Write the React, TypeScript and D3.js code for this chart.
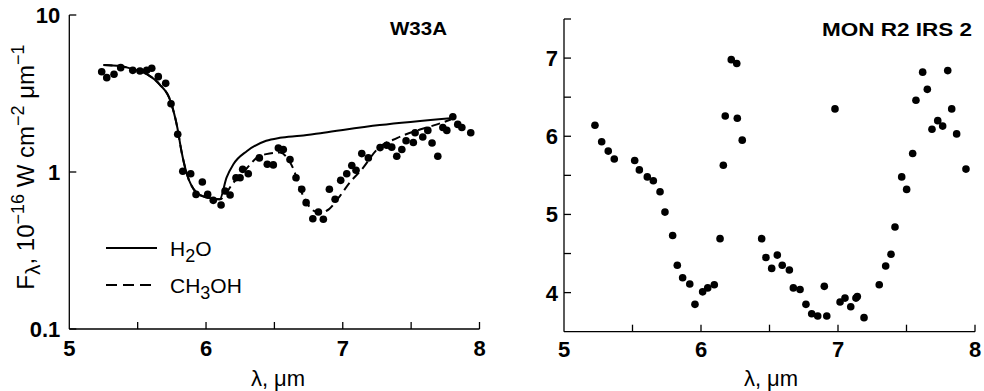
import React from "react"
import * as d3 from "d3"

// W33A observed points (wavelength in um, flux in 1e-16 W cm^-2 um^-1)
const w33aWave = [
  5.237, 5.274, 5.327, 5.376, 5.464, 5.517, 5.566, 5.603, 5.651, 5.705, 5.744, 5.793, 5.83, 5.888, 5.927, 5.973,
  6.012, 6.053, 6.11, 6.139, 6.176, 6.219, 6.249, 6.268, 6.309, 6.39, 6.448, 6.492, 6.529, 6.565, 6.614, 6.658,
  6.7, 6.732, 6.781, 6.822, 6.858, 6.902, 6.944, 6.985, 7.029, 7.066, 7.097, 7.139, 7.187, 7.273, 7.322, 7.358,
  7.395, 7.432, 7.463, 7.516, 7.529, 7.585, 7.622, 7.653, 7.695, 7.732, 7.761, 7.805, 7.841, 7.871, 7.936,
]
const w33aFlux = [
  4.35, 3.99, 4.19, 4.62, 4.44, 4.4, 4.44, 4.58, 4.05, 3.67, 2.72, 1.74, 1.01, 0.975, 0.72, 0.864,
  0.72, 0.66, 0.616, 0.757, 0.714, 0.92, 0.92, 1.04, 0.975, 1.23, 1.12, 1.11, 1.42, 1.39, 1.2, 0.92,
  0.776, 0.638, 0.504, 0.556, 0.5, 0.776, 0.67, 0.885, 0.975, 1.1, 1.025, 1.31, 1.23, 1.43, 1.48, 1.44,
  1.26, 1.39, 1.58, 1.54, 1.78, 1.67, 1.84, 1.53, 1.26, 1.92, 1.84, 2.25, 2.01, 1.92, 1.78,
]

// model fits
const h2oWave = [5.25, 5.37, 5.47, 5.57, 5.66, 5.74, 5.79, 5.82, 5.86, 5.93, 6.0, 6.1, 6.15, 6.2, 6.3, 6.44, 6.54, 6.69, 6.86, 7.27, 7.81]
const h2oFlux = [4.8, 4.73, 4.5, 4.19, 3.62, 2.83, 1.92, 1.36, 0.97, 0.74, 0.69, 0.67, 0.92, 1.12, 1.36, 1.58, 1.65, 1.7, 1.78, 1.99, 2.21]
const ch3ohWave = [5.25, 5.37, 5.47, 5.57, 5.66, 5.74, 5.79, 5.82, 5.86, 5.93, 6.0, 6.1, 6.2, 6.3, 6.37, 6.44, 6.54, 6.61, 6.64, 6.69, 6.75, 6.83, 6.9, 6.97, 7.05, 7.14, 7.25, 7.4, 7.57, 7.69, 7.79]
const ch3ohFlux = [4.8, 4.73, 4.5, 4.19, 3.62, 2.83, 1.92, 1.36, 0.97, 0.74, 0.69, 0.67, 0.855, 1.06, 1.23, 1.3, 1.33, 1.17, 1.04, 0.776, 0.61, 0.55, 0.58, 0.686, 0.855, 1.04, 1.39, 1.65, 1.87, 2.01, 2.16]

// MON R2 IRS 2 observed points
const monWave = [
  5.226, 5.275, 5.323, 5.367, 5.516, 5.55, 5.608, 5.652, 5.701, 5.737, 5.793, 5.827, 5.866, 5.918, 5.956, 6.012,
  6.049, 6.097, 6.139, 6.163, 6.177, 6.221, 6.261, 6.265, 6.301, 6.443, 6.474, 6.516, 6.557, 6.593, 6.645, 6.674,
  6.723, 6.766, 6.808, 6.852, 6.9, 6.918, 6.978, 7.015, 7.051, 7.093, 7.131, 7.141, 7.19, 7.301, 7.348, 7.387,
  7.416, 7.465, 7.501, 7.545, 7.569, 7.618, 7.652, 7.686, 7.728, 7.764, 7.801, 7.83, 7.866, 7.934,
]
const monFlux = [
  6.14, 5.93, 5.81, 5.71, 5.69, 5.57, 5.48, 5.43, 5.29, 5.03, 4.73, 4.35, 4.19, 4.11, 3.85, 4.01,
  4.06, 4.1, 4.69, 5.63, 6.26, 6.98, 6.93, 6.23, 5.95, 4.69, 4.45, 4.31, 4.48, 4.35, 4.29, 4.06,
  4.04, 3.85, 3.73, 3.7, 4.08, 3.7, 6.35, 3.88, 3.93, 3.82, 3.93, 3.95, 3.68, 4.1, 4.34, 4.49,
  4.84, 5.48, 5.32, 5.78, 6.46, 6.82, 6.6, 6.09, 6.2, 6.13, 6.84, 6.35, 6.03, 5.58,
]

const logTicks = [10, 1, 0.1]
const logTickLabels = ["10", "1", "0.1"]
const waveTicks = [5.5, 6, 6.5, 7, 7.5, 8]
const waveLabels = [5, 6, 7, 8]
const monTicks = [4, 4.5, 5, 5.5, 6, 6.5, 7, 7.5]
const monLabels = [4, 5, 6, 7]

const W = 984
const H = 391
const FONT = "'Liberation Sans', Arial, Helvetica, sans-serif"

export default function App() {
  // left panel scales
  const xL = d3.scaleLinear().domain([5, 8]).range([69.3, 479.5])
  const yL = d3.scaleLog().domain([0.1, 10]).range([329, 15])
  // right panel scales
  const xR = d3.scaleLinear().domain([5, 8]).range([564, 975])
  const yR = d3.scaleLinear().domain([3.5, 7.5]).range([331.7, 19])

  const lineL = d3
    .line<[number, number]>()
    .x((d) => xL(d[0]))
    .y((d) => yL(d[1]))
    .curve(d3.curveMonotoneX)

  const h2oPath = lineL(h2oWave.map((w, i) => [w, h2oFlux[i]]))
  const ch3ohPath = lineL(ch3ohWave.map((w, i) => [w, ch3ohFlux[i]]))

  const tick = 7

  return (
    <svg width={W} height={H} style={{ position: "absolute", left: 0, top: 0, background: "#fff" }} fontFamily={FONT}>
      {/* ---------- left panel ---------- */}
      <g stroke="#000" strokeWidth={1.3} fill="none">
        <line x1={xL(5)} x2={xL(5)} y1={yL(10)} y2={yL(0.1)} />
        <line x1={xL(5)} x2={xL(8)} y1={yL(0.1)} y2={yL(0.1)} />
        {logTicks.map((t) => (
          <line key={t} x1={xL(5)} x2={xL(5) + tick} y1={yL(t)} y2={yL(t)} />
        ))}
        {waveTicks.map((t) => (
          <line key={t} x1={xL(t)} x2={xL(t)} y1={yL(0.1)} y2={yL(0.1) - tick} />
        ))}
      </g>
      {logTicks.map((t, i) => (
        <text key={t} x={xL(5) - 9} y={yL(t)} dy="0.36em" textAnchor="end" fontSize={22} fontWeight="bold">
          {logTickLabels[i]}
        </text>
      ))}
      {waveLabels.map((t) => (
        <text key={t} x={xL(t)} y={356} textAnchor="middle" fontSize={22} fontWeight="bold">
          {t}
        </text>
      ))}
      <text x={278} y={386} textAnchor="middle" fontSize={22}>
        λ, μm
      </text>
      <text transform="translate(34,167) rotate(-90)" textAnchor="middle" fontSize={24}>
        <tspan>F</tspan>
        <tspan dy={6} fontSize={21}>λ</tspan>
        <tspan dy={-6}>, 10</tspan>
        <tspan dy={-10} fontSize={18}>−16</tspan>
        <tspan dy={10}> W cm</tspan>
        <tspan dy={-10} fontSize={18}>−2</tspan>
        <tspan dy={10}> μm</tspan>
        <tspan dy={-10} fontSize={18}>−1</tspan>
      </text>
      <text x={390} y={35} fontSize={18} fontWeight="bold" textLength={57} lengthAdjust="spacingAndGlyphs">
        W33A
      </text>

      <path d={h2oPath ?? ""} fill="none" stroke="#000" strokeWidth={2} />
      <path d={ch3ohPath ?? ""} fill="none" stroke="#000" strokeWidth={2} strokeDasharray="9,5" />
      {w33aWave.map((w, i) => (
        <circle key={i} cx={xL(w)} cy={yL(w33aFlux[i])} r={3.8} fill="#000" />
      ))}

      {/* legend */}
      <line x1={106} x2={157} y1={248} y2={248} stroke="#000" strokeWidth={2} />
      <text x={170} y={256} fontSize={21}>
        H<tspan dy={6} fontSize={18}>2</tspan>
        <tspan dy={-6}>O</tspan>
      </text>
      <line x1={106} x2={157} y1={285} y2={285} stroke="#000" strokeWidth={2} strokeDasharray="11,6" />
      <text x={170} y={293} fontSize={21}>
        CH<tspan dy={6} fontSize={18}>3</tspan>
        <tspan dy={-6}>OH</tspan>
      </text>

      {/* ---------- right panel ---------- */}
      <g stroke="#000" strokeWidth={1.3} fill="none">
        <line x1={xR(5)} x2={xR(5)} y1={yR(7.5)} y2={yR(3.5)} />
        <line x1={xR(5)} x2={xR(8)} y1={yR(3.5)} y2={yR(3.5)} />
        {monTicks.map((t) => (
          <line key={t} x1={xR(5)} x2={xR(5) + tick} y1={yR(t)} y2={yR(t)} />
        ))}
        {waveTicks.map((t) => (
          <line key={t} x1={xR(t)} x2={xR(t)} y1={yR(3.5)} y2={yR(3.5) - tick} />
        ))}
      </g>
      {monLabels.map((t) => (
        <text key={t} x={xR(5) - 6} y={yR(t)} dy="0.36em" textAnchor="end" fontSize={22} fontWeight="bold">
          {t}
        </text>
      ))}
      {waveLabels.map((t) => (
        <text key={t} x={xR(t)} y={357} textAnchor="middle" fontSize={22} fontWeight="bold">
          {t}
        </text>
      ))}
      <text x={771} y={386} textAnchor="middle" fontSize={22}>
        λ, μm
      </text>
      <text x={822} y={36} fontSize={18} fontWeight="bold" textLength={150} lengthAdjust="spacingAndGlyphs">
        MON R2 IRS 2
      </text>
      {monWave.map((w, i) => (
        <circle key={i} cx={xR(w)} cy={yR(monFlux[i])} r={3.8} fill="#000" />
      ))}
    </svg>
  )
}
